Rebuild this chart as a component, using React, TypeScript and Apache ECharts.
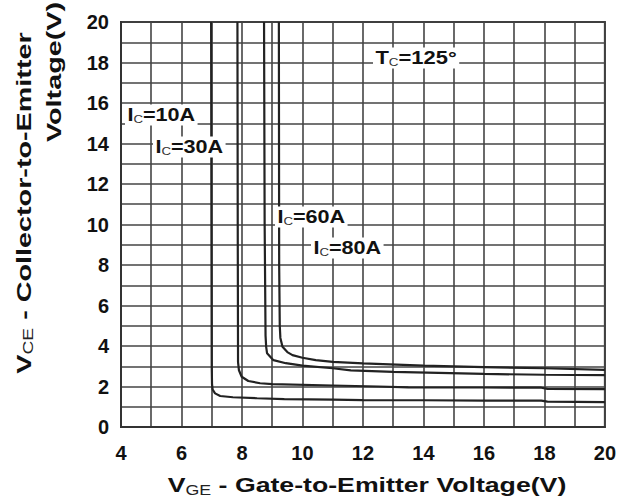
import React, { useEffect, useRef } from "react";
import * as echarts from "echarts";

const xTickLabels = [4, 6, 8, 10, 12, 14, 16, 18, 20];
const yTickLabels = [0, 2, 4, 6, 8, 10, 12, 14, 16, 18, 20];

const ic10: [number, number][] = [
  [6.98, 20], [6.99, 10], [7.0, 3], [7.01, 2.1], [7.03, 1.85], [7.11, 1.66], [7.28, 1.53],
  [7.7, 1.47], [8.5, 1.42], [9.4, 1.38], [11, 1.35], [12, 1.33], [14, 1.32], [16, 1.3],
  [17.9, 1.3], [18.1, 1.25], [20, 1.23],
];
const ic30: [number, number][] = [
  [7.85, 20], [7.86, 10], [7.87, 3.2], [7.9, 2.8], [7.99, 2.48], [8.21, 2.27], [8.6, 2.16],
  [9.0, 2.12], [11, 2.05], [12.5, 2.0], [13.5, 1.96], [16, 1.95], [17.9, 1.94], [18.1, 1.88],
  [20, 1.87],
];
const ic60: [number, number][] = [
  [8.73, 20], [8.75, 10], [8.78, 4.5], [8.8, 3.96], [8.83, 3.64], [9.04, 3.3], [9.45, 3.15],
  [10, 3.03], [11, 2.9], [11.6, 2.8], [13, 2.72], [16, 2.62], [18, 2.58], [20, 2.56],
];
const ic80: [number, number][] = [
  [9.22, 20], [9.23, 8], [9.25, 5], [9.27, 4.4], [9.34, 3.96], [9.5, 3.7], [9.67, 3.55],
  [10, 3.42], [10.44, 3.3], [11, 3.22], [12, 3.14], [14, 3.03], [16, 2.96], [18, 2.9],
  [20, 2.82],
];

const FONT = "'Liberation Sans', Arial, sans-serif";

const curve = (name: string, data: [number, number][]) => ({
  type: "line",
  name,
  data,
  showSymbol: false,
  symbol: "none",
  smooth: false,
  lineStyle: { color: "#222", width: 2.2 },
  z: 5,
});

const label = (x: number, y: number, main: string, sub: string, rest: string, sx: number) => ({
  type: "text",
  x,
  y,
  scaleX: sx,
  z: 10,
  style: {
    text: `{m|${main}}{s|${sub}}{m|${rest}}`,
    align: "left",
    verticalAlign: "middle",
    backgroundColor: "#fff",
    padding: [1, 2],
    rich: {
      m: { fontFamily: FONT, fontWeight: "bold", fontSize: 18, fill: "#111", lineHeight: 19 },
      s: { fontFamily: FONT, fontSize: 11, fill: "#333", verticalAlign: "bottom", lineHeight: 12 },
    },
  },
});

const titleRich = {
  m: { fontFamily: FONT, fontWeight: "bold", fontSize: 21, fill: "#111", lineHeight: 24 },
  s: { fontFamily: FONT, fontSize: 14, fill: "#222", verticalAlign: "bottom", lineHeight: 16 },
};

export default function App() {
  const ref = useRef<HTMLDivElement>(null);
  useEffect(() => {
    if (!ref.current) return;
    const chart = echarts.init(ref.current, undefined, { renderer: "svg" });
    chart.setOption({
      animation: false,
      backgroundColor: "#fff",
      grid: {
        left: 121,
        right: 13,
        top: 22,
        bottom: 72,
        show: true,
        borderColor: "#333",
        borderWidth: 2,
        backgroundColor: "transparent",
      },
      xAxis: {
        type: "value",
        min: 4,
        max: 20,
        interval: 1,
        axisLine: { show: true, lineStyle: { color: "#333", width: 2 } },
        axisTick: { show: false },
        splitLine: { show: true, lineStyle: { color: "#444", width: 1.6 } },
        axisLabel: {
          margin: 16,
          fontFamily: FONT,
          fontWeight: "bold",
          fontSize: 20,
          color: "#111",
          formatter: (v: number) => (xTickLabels.includes(v) ? String(v) : ""),
        },
      },
      yAxis: {
        type: "value",
        min: 0,
        max: 20,
        interval: 1,
        axisLine: { show: true, lineStyle: { color: "#333", width: 2 } },
        axisTick: { show: false },
        splitLine: { show: true, lineStyle: { color: "#444", width: 1.6 } },
        axisLabel: {
          margin: 12,
          fontFamily: FONT,
          fontWeight: "bold",
          fontSize: 20,
          color: "#111",
          formatter: (v: number) => (yTickLabels.includes(v) ? String(v) : ""),
        },
      },
      series: [curve("IC=10A", ic10), curve("IC=30A", ic30), curve("IC=60A", ic60), curve("IC=80A", ic80)],
      graphic: [
        label(125, 115, "I", "C", "=10A", 1.2),
        label(153, 147, "I", "C", "=30A", 1.2),
        label(275, 217, "I", "C", "=60A", 1.2),
        label(311, 248, "I", "C", "=80A", 1.2),
        label(373, 58, "T", "C", "=125°", 1.22),
        {
          type: "text",
          x: 367,
          y: 485,
          scaleX: 1.27,
          z: 10,
          style: {
            text: "{m|V}{s|GE}{m| - Gate-to-Emitter Voltage(V)}",
            align: "center",
            verticalAlign: "middle",
            rich: titleRich,
          },
        },
        {
          type: "text",
          x: 23,
          y: 203,
          rotation: Math.PI / 2,
          scaleX: 1.37,
          z: 10,
          style: {
            text: "{m|V}{s|CE}{m| - Collector-to-Emitter}",
            align: "center",
            verticalAlign: "middle",
            rich: titleRich,
          },
        },
        {
          type: "text",
          x: 53,
          y: 72,
          rotation: Math.PI / 2,
          scaleX: 1.37,
          z: 10,
          style: {
            text: "Voltage(V)",
            align: "center",
            verticalAlign: "middle",
            fontFamily: FONT,
            fontWeight: "bold",
            fontSize: 21,
            fill: "#111",
          },
        },
      ],
    });
    return () => chart.dispose();
  }, []);
  return (
    <div
      ref={ref}
      style={{ position: "fixed", left: 0, top: 0, width: 619, height: 499, background: "#fff" }}
    />
  );
}
